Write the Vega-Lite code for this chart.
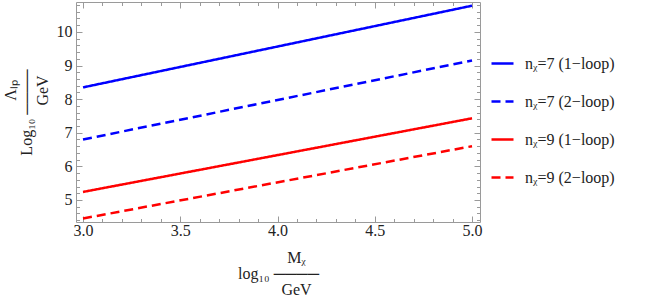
{
  "$schema": "https://vega.github.io/schema/vega-lite/v6.json",
  "autosize": "none",
  "padding": {"left": 76, "top": 2, "right": 174, "bottom": 78},
  "width": 404,
  "height": 220,
  "config": {
    "view": {"stroke": "#9a9a9a", "strokeWidth": 1},
    "font": "Liberation Serif",
    "axis": {"grid": false, "domain": false, "tickColor": "#9a9a9a", "labelFont": "Liberation Serif", "titleFont": "Liberation Serif", "labelColor": "#222", "titleColor": "#222", "labelFontSize": 16, "titleFontSize": 16, "titleFontWeight": "normal"},
    "legend": {"labelFont": "Liberation Serif", "labelFontSize": 16, "labelColor": "#222"}
  },
  "data": {"values": [
    {"series": "nᵪ=7 (1−loop)", "x": 3.0, "y": 8.35},
    {"series": "nᵪ=7 (1−loop)", "x": 5.0, "y": 10.78},
    {"series": "nᵪ=7 (2−loop)", "x": 3.0, "y": 6.80},
    {"series": "nᵪ=7 (2−loop)", "x": 5.0, "y": 9.15},
    {"series": "nᵪ=9 (1−loop)", "x": 3.0, "y": 5.24},
    {"series": "nᵪ=9 (1−loop)", "x": 5.0, "y": 7.43},
    {"series": "nᵪ=9 (2−loop)", "x": 3.0, "y": 4.45},
    {"series": "nᵪ=9 (2−loop)", "x": 5.0, "y": 6.60}
  ]},
  "resolve": {"axis": {"x": "independent", "y": "independent"}},
  "layer": [
    {
      "mark": {"type": "line", "strokeWidth": 2.5},
      "encoding": {
        "x": {"field": "x", "type": "quantitative", "scale": {"domain": [2.964, 5.041], "nice": false, "zero": false},
          "axis": {"orient": "bottom", "values": [3, 3.5, 4, 4.5, 5], "format": ".1f", "tickSize": -6, "labelPadding": 6, "labelFont": "Liberation Serif",
            "title": ["\u200b\u00a0\u00a0\u00a0\u00a0\u00a0\u00a0\u00a0\u00a0\u00a0Mᵪ", "log₁₀ ────", "\u200b\u00a0\u00a0\u00a0\u00a0\u00a0\u00a0\u00a0\u00a0\u00a0GeV"], "titleLineHeight": 16, "titlePadding": 11}},
        "y": {"field": "y", "type": "quantitative", "scale": {"domain": [4.345, 10.89], "nice": false, "zero": false},
          "axis": {"orient": "left", "values": [5, 6, 7, 8, 9, 10], "format": "d", "tickSize": -6, "labelPadding": 10, "labelFont": "Liberation Serif",
            "title": ["\u200b\u00a0\u00a0\u00a0\u00a0\u00a0\u00a0\u00a0\u00a0\u00a0\u00a0\u00a0Λₗₚ", "Log₁₀ ────", "\u200b\u00a0\u00a0\u00a0\u00a0\u00a0\u00a0\u00a0\u00a0\u00a0\u00a0\u00a0GeV"], "titleLineHeight": 16, "titlePadding": 6}},
        "color": {"field": "series", "type": "nominal", "title": null,
          "scale": {"domain": ["nᵪ=7 (1−loop)", "nᵪ=7 (2−loop)", "nᵪ=9 (1−loop)", "nᵪ=9 (2−loop)"], "range": ["#0000ff", "#0000ff", "#ff0000", "#ff0000"]},
          "legend": {"orient": "none", "legendX": 414, "legendY": 49, "symbolType": "stroke", "symbolSize": 484, "symbolStrokeWidth": 2.5, "labelOffset": 10, "rowPadding": 17}},
        "strokeDash": {"field": "series", "type": "nominal", "title": null,
          "scale": {"domain": ["nᵪ=7 (1−loop)", "nᵪ=7 (2−loop)", "nᵪ=9 (1−loop)", "nᵪ=9 (2−loop)"], "range": [[1, 0], [9, 5], [1, 0], [9, 5]]},
          "legend": {"orient": "none", "legendX": 414, "legendY": 49, "symbolType": "stroke", "symbolSize": 484, "symbolStrokeWidth": 2.5, "labelOffset": 10, "rowPadding": 17}}
      }
    },
    {
      "mark": {"type": "line", "opacity": 0},
      "encoding": {
        "detail": {"field": "series", "type": "nominal"},
        "x": {"field": "x", "type": "quantitative",
          "axis": {"orient": "bottom", "values": [3.1, 3.2, 3.3, 3.4, 3.6, 3.7, 3.8, 3.9, 4.1, 4.2, 4.3, 4.4, 4.6, 4.7, 4.8, 4.9], "labels": false, "tickSize": -3.5, "title": null}},
        "y": {"field": "y", "type": "quantitative",
          "axis": {"orient": "left", "values": [4.4, 4.6, 4.8, 5.2, 5.4, 5.6, 5.8, 6.2, 6.4, 6.6, 6.8, 7.2, 7.4, 7.6, 7.8, 8.2, 8.4, 8.6, 8.8, 9.2, 9.4, 9.6, 9.8, 10.2, 10.4, 10.6, 10.8], "labels": false, "tickSize": -3.5, "title": null}}
      }
    },
    {
      "mark": {"type": "line", "opacity": 0},
      "encoding": {
        "detail": {"field": "series", "type": "nominal"},
        "x": {"field": "x", "type": "quantitative",
          "axis": {"orient": "top", "values": [3, 3.5, 4, 4.5, 5], "labels": false, "tickSize": -6, "title": null}},
        "y": {"field": "y", "type": "quantitative",
          "axis": {"orient": "right", "values": [5, 6, 7, 8, 9, 10], "labels": false, "tickSize": -6, "title": null}}
      }
    },
    {
      "mark": {"type": "line", "opacity": 0},
      "encoding": {
        "detail": {"field": "series", "type": "nominal"},
        "x": {"field": "x", "type": "quantitative",
          "axis": {"orient": "top", "values": [3.1, 3.2, 3.3, 3.4, 3.6, 3.7, 3.8, 3.9, 4.1, 4.2, 4.3, 4.4, 4.6, 4.7, 4.8, 4.9], "labels": false, "tickSize": -3.5, "title": null}},
        "y": {"field": "y", "type": "quantitative",
          "axis": {"orient": "right", "values": [4.4, 4.6, 4.8, 5.2, 5.4, 5.6, 5.8, 6.2, 6.4, 6.6, 6.8, 7.2, 7.4, 7.6, 7.8, 8.2, 8.4, 8.6, 8.8, 9.2, 9.4, 9.6, 9.8, 10.2, 10.4, 10.6, 10.8], "labels": false, "tickSize": -3.5, "title": null}}
      }
    }
  ]
}
